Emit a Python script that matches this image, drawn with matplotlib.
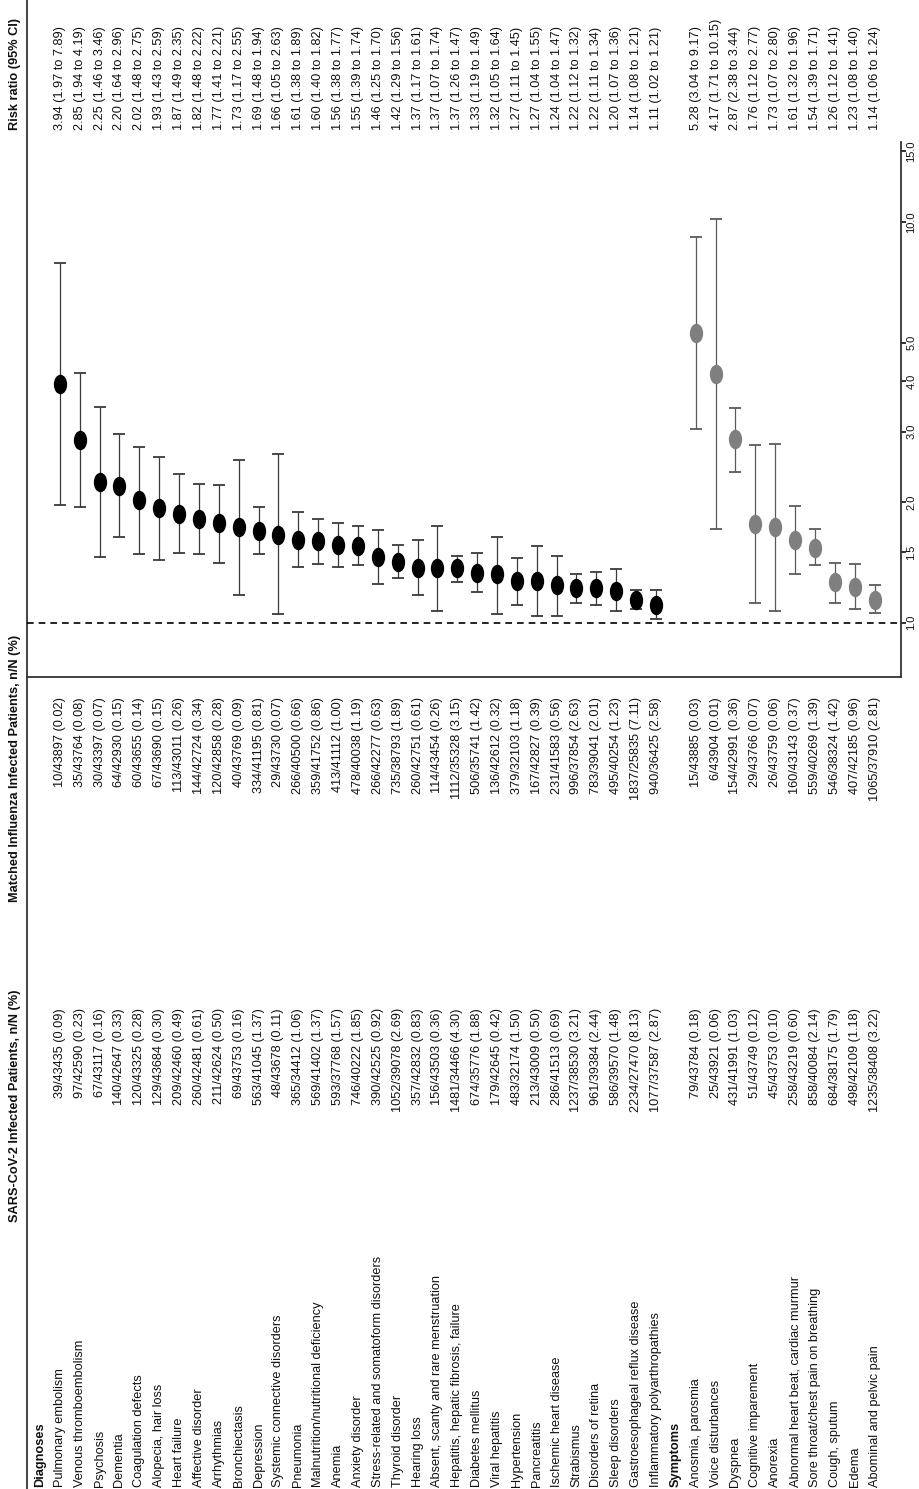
import numpy as np
import matplotlib.pyplot as plt
from matplotlib.path import Path
from matplotlib.transforms import Affine2D
from matplotlib.ticker import NullLocator

plt.rcParams['font.family'] = ['Liberation Sans', 'DejaVu Sans']

# ---- data ----
diag_labels = [
    'Pulmonary embolism', 'Venous thromboembolism', 'Psychosis', 'Dementia',
    'Coagulation defects', 'Alopecia, hair loss', 'Heart failure',
    'Affective disorder', 'Arrhythmias', 'Bronchiectasis', 'Depression',
    'Systemic connective disorders', 'Pneumonia',
    'Malnutrition/nutritional deficiency', 'Anemia', 'Anxiety disorder',
    'Stress-related and somatoform disorders', 'Thyroid disorder',
    'Hearing loss', 'Absent, scanty and rare menstruation',
    'Hepatitis, hepatic fibrosis, failure', 'Diabetes mellitus',
    'Viral hepatitis', 'Hypertension', 'Pancreatitis',
    'Ischemic heart disease', 'Strabismus', 'Disorders of retina',
    'Sleep disorders', 'Gastroesophageal reflux disease',
    'Inflammatory polyarthropathies',
]
diag_sars = [
    '39/43435 (0.09)', '97/42590 (0.23)', '67/43117 (0.16)', '140/42647 (0.33)',
    '120/43325 (0.28)', '129/43684 (0.30)', '209/42460 (0.49)', '260/42481 (0.61)',
    '211/42624 (0.50)', '69/43753 (0.16)', '563/41045 (1.37)', '48/43678 (0.11)',
    '365/34412 (1.06)', '569/41402 (1.37)', '593/37768 (1.57)', '746/40222 (1.85)',
    '390/42525 (0.92)', '1052/39078 (2.69)', '357/42832 (0.83)', '156/43503 (0.36)',
    '1481/34466 (4.30)', '674/35776 (1.88)', '179/42645 (0.42)', '483/32174 (1.50)',
    '213/43009 (0.50)', '286/41513 (0.69)', '1237/38530 (3.21)', '961/39384 (2.44)',
    '586/39570 (1.48)', '2234/27470 (8.13)', '1077/37587 (2.87)',
]
diag_flu = [
    '10/43897 (0.02)', '35/43764 (0.08)', '30/43397 (0.07)', '64/42930 (0.15)',
    '60/43655 (0.14)', '67/43690 (0.15)', '113/43011 (0.26)', '144/42724 (0.34)',
    '120/42858 (0.28)', '40/43769 (0.09)', '334/41195 (0.81)', '29/43730 (0.07)',
    '266/40500 (0.66)', '359/41752 (0.86)', '413/41112 (1.00)', '478/40038 (1.19)',
    '266/42277 (0.63)', '735/38793 (1.89)', '260/42751 (0.61)', '114/43454 (0.26)',
    '1112/35328 (3.15)', '506/35741 (1.42)', '136/42612 (0.32)', '379/32103 (1.18)',
    '167/42827 (0.39)', '231/41583 (0.56)', '996/37854 (2.63)', '783/39041 (2.01)',
    '495/40254 (1.23)', '1837/25835 (7.11)', '940/36425 (2.58)',
]
diag_rr = [3.94, 2.85, 2.25, 2.20, 2.02, 1.93, 1.87, 1.82, 1.77, 1.73, 1.69,
           1.66, 1.61, 1.60, 1.56, 1.55, 1.46, 1.42, 1.37, 1.37, 1.37, 1.33,
           1.32, 1.27, 1.27, 1.24, 1.22, 1.22, 1.20, 1.14, 1.11]
diag_lo = [1.97, 1.94, 1.46, 1.64, 1.48, 1.43, 1.49, 1.48, 1.41, 1.17, 1.48,
           1.05, 1.38, 1.40, 1.38, 1.39, 1.25, 1.29, 1.17, 1.07, 1.26, 1.19,
           1.05, 1.11, 1.04, 1.04, 1.12, 1.11, 1.07, 1.08, 1.02]
diag_hi = [7.89, 4.19, 3.46, 2.96, 2.75, 2.59, 2.35, 2.22, 2.21, 2.55, 1.94,
           2.63, 1.89, 1.82, 1.77, 1.74, 1.70, 1.56, 1.61, 1.74, 1.47, 1.49,
           1.64, 1.45, 1.55, 1.47, 1.32, 1.34, 1.36, 1.21, 1.21]

sym_labels = [
    'Anosmia, parosmia', 'Voice disturbances', 'Dyspnea',
    'Cognitive imparement', 'Anorexia', 'Abnormal heart beat, cardiac murmur',
    'Sore throat/chest pain on breathing', 'Cough, sputum', 'Edema',
    'Abominal and pelvic pain',
]
sym_sars = [
    '79/43784 (0.18)', '25/43921 (0.06)', '431/41991 (1.03)', '51/43749 (0.12)',
    '45/43753 (0.10)', '258/43219 (0.60)', '858/40084 (2.14)', '684/38175 (1.79)',
    '498/42109 (1.18)', '1235/38408 (3.22)',
]
sym_flu = [
    '15/43885 (0.03)', '6/43904 (0.01)', '154/42991 (0.36)', '29/43766 (0.07)',
    '26/43759 (0.06)', '160/43143 (0.37)', '559/40269 (1.39)', '546/38324 (1.42)',
    '407/42185 (0.96)', '1065/37910 (2.81)',
]
sym_rr = [5.28, 4.17, 2.87, 1.76, 1.73, 1.61, 1.54, 1.26, 1.23, 1.14]
sym_lo = [3.04, 1.71, 2.38, 1.12, 1.07, 1.32, 1.39, 1.12, 1.08, 1.06]
sym_hi = [9.17, 10.15, 3.44, 2.77, 2.80, 1.96, 1.71, 1.41, 1.40, 1.24]

rr_ticks = [1.0, 1.5, 2.0, 3.0, 4.0, 5.0, 10.0, 15.0]

# ---- layout (pixels, portrait page) ----
W, H = 920, 1489
ROW0, STEP = 40, 19.87          # row 0 = "Diagnoses" header
def px2row(px):
    return (px - ROW0) / STEP

FS = 9.2
fig = plt.figure(figsize=(W / 100, H / 100), dpi=100)

# text layer covering the whole page: x = row index, y = pixels from top
tax = fig.add_axes([0, 0, 1, 1])
tax.set_xlim(px2row(0), px2row(W))
tax.set_ylim(H, 0)
tax.axis('off')

diag_rows = np.arange(1, len(diag_labels) + 1)
sym_rows = np.arange(len(diag_labels) + 2, len(diag_labels) + 2 + len(sym_labels))

def vtext(row, y, s, ha, bold=False):
    tax.text(row, y, s, rotation=90, rotation_mode='anchor', ha=ha, va='center',
             fontsize=FS, fontweight='bold' if bold else 'normal', color='#111111')

# header row and underline
hdr = px2row(15)
vtext(hdr, 1222, 'SARS-CoV-2 Infected Patients, n/N (%)', 'left', bold=True)
vtext(hdr, 902, 'Matched Influenza Infected Patients, n/N (%)', 'left', bold=True)
vtext(hdr, 130, 'Risk ratio (95% CI)', 'left', bold=True)
tax.plot([px2row(27)] * 2, [0, H], color='#333333', lw=1.3)

vtext(0, 1487, 'Diagnoses', 'left', bold=True)
vtext(len(diag_labels) + 1, 1487, 'Symptoms', 'left', bold=True)

def table(rows, labels, sars, flu, rr, lo, hi):
    for r, lab, s, f, v, a, b in zip(rows, labels, sars, flu, rr, lo, hi):
        vtext(r, 1487, lab, 'left')
        vtext(r, 1008, s, 'right')
        vtext(r, 697, f, 'right')
        vtext(r, 130, f'{v:.2f} ({a:.2f} to {b:.2f})', 'left')

table(diag_rows, diag_labels, diag_sars, diag_flu, diag_rr, diag_lo, diag_hi)
table(sym_rows, sym_labels, sym_sars, sym_flu, sym_rr, sym_lo, sym_hi)

# ---- forest panel ----
x0, x1, ytop, ybot = 27, 901, 142, 677
ax = fig.add_axes([x0 / W, 1 - ybot / H, (x1 - x0) / W, (ybot - ytop) / H])
ax.set_facecolor('none')
ax.set_xlim(px2row(x0), px2row(x1))
ax.set_yscale('log')
ax.set_ylim(0.732, 15.84)

oval = Path.unit_circle().transformed(Affine2D().scale(0.66, 1.0))

def forest(rows, rr, lo, hi, dot_color, bar_color):
    rr, lo, hi = map(np.asarray, (rr, lo, hi))
    ax.errorbar(rows, rr, yerr=[rr - lo, hi - rr], fmt='none', ecolor=bar_color,
                elinewidth=0.9, capsize=4.5, capthick=1.3, zorder=2)
    ax.plot(rows, rr, ls='none', marker=oval, ms=13, color=dot_color,
            mec=dot_color, zorder=3)

forest(diag_rows, diag_rr, diag_lo, diag_hi, 'black', '#3a3a3a')
forest(sym_rows, sym_rr, sym_lo, sym_hi, '#7f7f7f', '#5a5a5a')

ax.axhline(1.0, color='black', ls=(0, (4, 3)), lw=1.2, zorder=1)

for side in ('left', 'top'):
    ax.spines[side].set_visible(False)
for side in ('right', 'bottom'):
    ax.spines[side].set_color('#333333')
    ax.spines[side].set_linewidth(1.3)

ax.set_xticks([])
ax.yaxis.tick_right()
ax.yaxis.set_minor_locator(NullLocator())
ax.set_yticks(rr_ticks)
ax.set_yticklabels([f'{t:.1f}' for t in rr_ticks], rotation=90, va='center')
ax.tick_params(axis='y', direction='out', length=3.5, width=1.2,
               labelsize=8, pad=0.5, colors='#111111')

fig.savefig('out.png', dpi=100)
